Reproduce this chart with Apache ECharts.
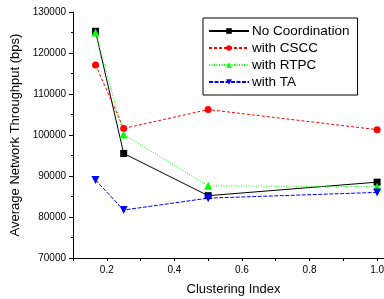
<!DOCTYPE html>
<html><head><meta charset="utf-8">
<script src="https://cdn.jsdelivr.net/npm/echarts@6/dist/echarts.min.js"></script>
<style>html,body{margin:0;padding:0;background:#fff}#c{width:384px;height:299px}</style>
</head><body><div id="c"></div>
<script>
const clusteringIndex = [1/6, 0.25, 0.5, 1.0];
const noCoordination = [125300, 95500, 85200, 88500];
const withCSCC = [117100, 101600, 106200, 101300];
const withRTPC = [125000, 100100, 87600, 87400];
const withTA = [89000, 81700, 84600, 86000];
const seriesNames = ['No Coordination', 'with CSCC', 'with RTPC', 'with TA'];

const font = 'Arial, "Liberation Sans", sans-serif';
function pairs(ys){ return clusteringIndex.map((x,i)=>[x, ys[i]]); }
const chart = echarts.init(document.getElementById('c'), null, {renderer:'canvas'});
const defs = [
  {name: seriesNames[0], data: noCoordination, color:'#000000', type:'solid', symbol:'rect', size:7},
  {name: seriesNames[1], data: withCSCC, color:'#ff0000', type:[3,2], symbol:'circle', size:7},
  {name: seriesNames[2], data: withRTPC, color:'#00ff00', type:[1,1.5], symbol:'triangle', size:8},
  {name: seriesNames[3], data: withTA, color:'#0000ff', type:[4,1.5], symbol:'triangle', size:8, rotate:180}
];
chart.setOption({
  animation:false,
  grid:{left:73, top:12, height:246, width:321, containLabel:false, outerBoundsMode:'none'},
  legend:{
    data: seriesNames,
    orient:'vertical', left:203, top:18, width:155,
    padding:[6,8,6,5], itemGap:3, itemWidth:40, itemHeight:7,
    borderColor:'#000', borderWidth:1,
    textStyle:{fontFamily:font, fontSize:13.5, lineHeight:14, color:'#000', padding:[0,0,0,-2]}
  },
  xAxis:{
    type:'value', min:0.1, max:1.05, interval:0.1,
    name:'Clustering Index', nameLocation:'middle', nameGap:25,
    nameTextStyle:{fontFamily:font, fontSize:13, color:'#000'},
    axisLine:{lineStyle:{color:'#000', width:1}},
    axisTick:{show:true, length:3, lineStyle:{color:'#000'}},
    axisLabel:{fontFamily:font, fontSize:10, color:'#000', margin:7,
      formatter:v=>{const k=Math.round(v*100); return (k%20===0)? (k/100).toFixed(1):'';}},
    splitLine:{show:false}
  },
  yAxis:{
    type:'value', min:70000, max:130000, interval:10000,
    name:'Average Network Throughput (bps)', nameLocation:'middle', nameGap:46,
    nameTextStyle:{fontFamily:font, fontSize:13, color:'#000'},
    axisLine:{show:true, lineStyle:{color:'#000', width:1}},
    axisTick:{show:true, length:4, lineStyle:{color:'#000'}},
    minorTick:{show:true, splitNumber:2, length:2, lineStyle:{color:'#000'}},
    axisLabel:{fontFamily:font, fontSize:10, color:'#000', margin:7, formatter:v=>String(v)},
    splitLine:{show:false}
  },
  series: defs.map(d=>({
    name:d.name, type:'line', data:pairs(d.data),
    symbol:d.symbol, symbolSize:d.size, symbolRotate:d.rotate||0,
    showAllSymbol:true,
    itemStyle:{color:d.color},
    lineStyle:{color:d.color, width:1, type:d.type},
    emphasis:{disabled:true}
  }))
});
</script></body></html>
